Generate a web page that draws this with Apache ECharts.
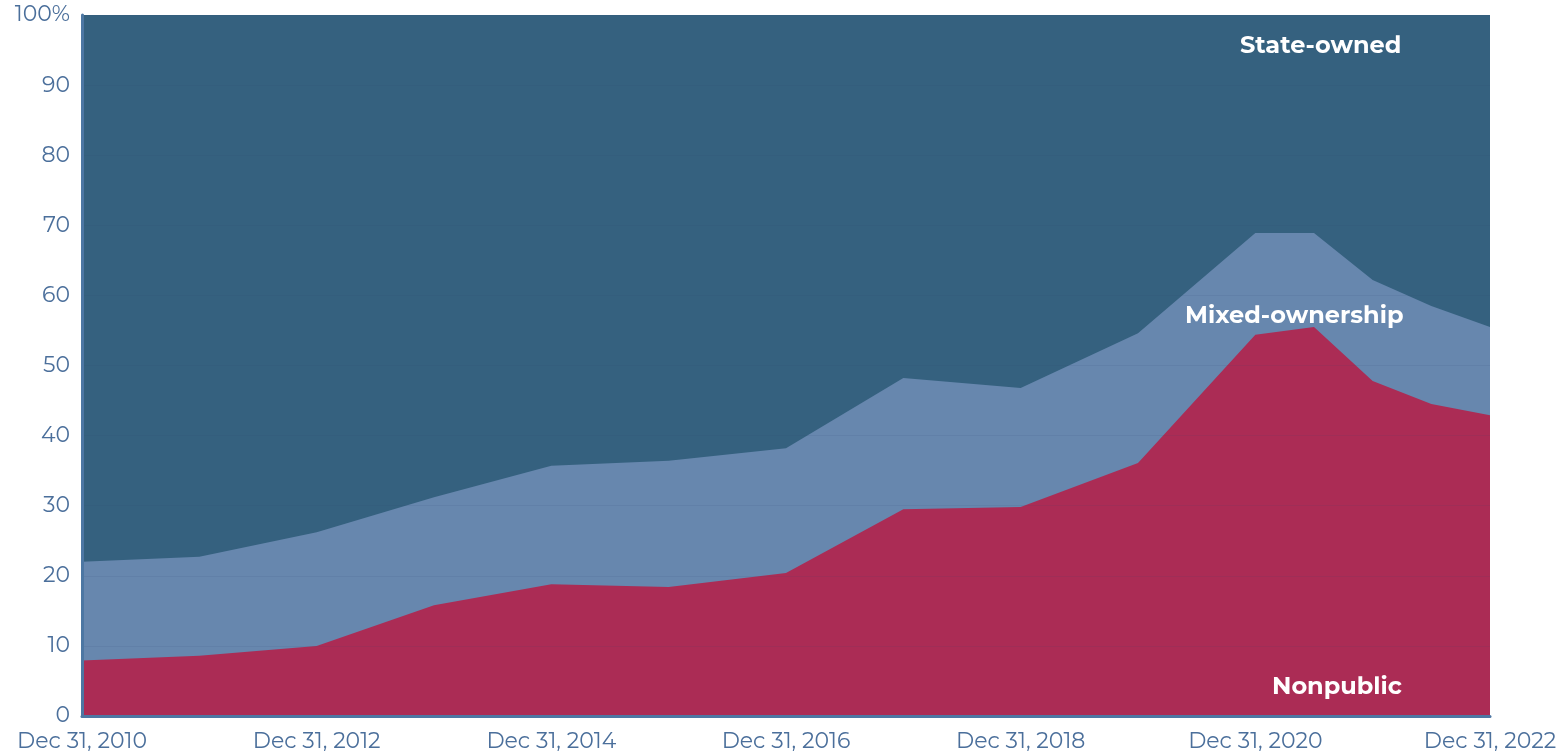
<!DOCTYPE html>
<html>
<head>
<meta charset="utf-8">
<script src="https://cdn.jsdelivr.net/npm/echarts@6/dist/echarts.min.js"></script>
<style>
  html, body { margin: 0; padding: 0; background: #fff; }
  #chart { width: 1562px; height: 754px; }
</style>
</head>
<body>
<div id="chart"></div>
<script>
// x in years: Dec 31 of each year, then half-year steps after 2020
var periods = [2010, 2011, 2012, 2013, 2014, 2015, 2016, 2017, 2018, 2019, 2020, 2020.5, 2021, 2021.5, 2022];
// cumulative shares in percent
var nonpublic = [7.9, 8.6, 10.0, 15.8, 18.8, 18.4, 20.4, 29.5, 29.8, 36.1, 54.4, 55.5, 47.8, 44.5, 42.9];
var mixedTop  = [22.0, 22.7, 26.2, 31.2, 35.7, 36.4, 38.2, 48.2, 46.8, 54.6, 68.9, 68.9, 62.2, 58.5, 55.5];
var stateTop  = [100, 100, 100, 100, 100, 100, 100, 100, 100, 100, 100, 100, 100, 100, 100];

function pairs(vals) {
	return vals.map(function(v, i) { return [periods[i], v]; });
}

var axisColor = '#4b6f9b';
var font = 'Montserrat, "Open Sans", Lato, sans-serif';

var chart = echarts.init(document.getElementById('chart'));

// layers drawn back to front, each filled down to zero
function area(name, vals, color, z) {
	return {
		name: name,
		type: 'line',
		data: pairs(vals),
		z: z,
		showSymbol: false,
		symbol: 'none',
		lineStyle: { width: 0 },
		areaStyle: { color: color, opacity: 1, origin: 'start' },
		itemStyle: { color: color },
		animation: false
	};
}

chart.setOption({
	grid: { left: 82, right: 72, top: 15, bottom: 38 },
	xAxis: {
		type: 'value',
		min: 2010,
		max: 2022,
		interval: 2,
		z: 10,
		axisLine: { show: true, lineStyle: { color: '#4d77a3', width: 3 } },
		axisTick: { show: false },
		splitLine: { show: false },
		axisLabel: {
			color: axisColor,
			fontFamily: font,
			fontSize: 22,
			margin: 15,
			formatter: function(v) { return 'Dec 31, ' + v; }
		}
	},
	yAxis: {
		type: 'value',
		min: 0,
		max: 100,
		interval: 10,
		z: 10,
		axisLine: { show: true, lineStyle: { color: '#4d77a3', width: 3 } },
		axisTick: { show: false },
		splitLine: { show: true, lineStyle: { color: 'rgba(40,70,110,0.09)', width: 1 } },
		axisLabel: {
			color: axisColor,
			fontFamily: font,
			fontSize: 22,
			margin: 12,
			formatter: function(v) { return v === 100 ? '100%' : String(v); }
		}
	},
	series: [
		area('State-owned', stateTop, '#35617f', 2),
		area('Mixed-ownership', mixedTop, '#6787ae', 3),
		area('Nonpublic', nonpublic, '#ab2c55', 4)
	],
	graphic: [
		{ type: 'text', left: 1240, top: 34, z: 100, style: { text: 'State-owned', fill: '#fff', font: 'bold 24px ' + font } },
		{ type: 'text', left: 1185, top: 304, z: 100, style: { text: 'Mixed-ownership', fill: '#fff', font: 'bold 24px ' + font } },
		{ type: 'text', left: 1272, top: 675, z: 100, style: { text: 'Nonpublic', fill: '#fff', font: 'bold 24px ' + font } }
	]
});
</script>
</body>
</html>
